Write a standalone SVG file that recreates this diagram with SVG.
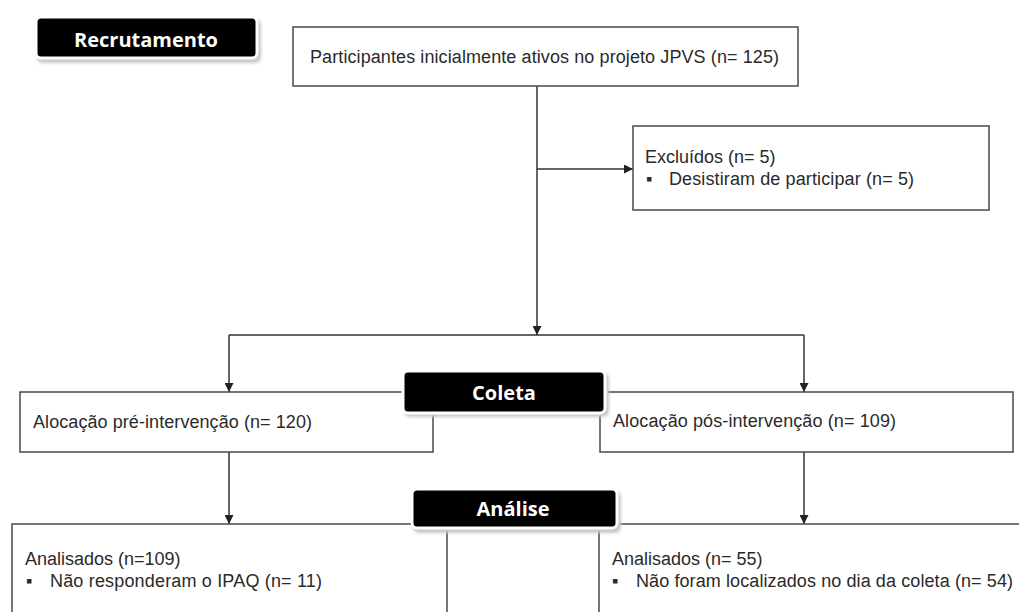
<svg xmlns="http://www.w3.org/2000/svg" width="1019" height="612" viewBox="0 0 1019 612">
<style>
.box{fill:#fff;stroke:#4a4a4a;stroke-width:1.5}
.txt{font-family:"Liberation Sans",Arial,sans-serif;font-size:18px;fill:#2a2a2a}
.lbl{fill:#000;stroke:#fff;stroke-width:3}
.shd{fill:#c8c8c8}
.ltxt{font-family:"Open Sans","DejaVu Sans",sans-serif;font-weight:bold;font-size:20px;fill:#fff;text-anchor:middle}
.con{fill:none;stroke:#333;stroke-width:1.5}
</style>
<defs>
<marker id="arr" viewBox="0 0 10 10" refX="10" refY="5" markerWidth="9" markerHeight="9" markerUnits="userSpaceOnUse" orient="auto">
<path d="M0,0 L10,5 L0,10 Z" fill="#222"/>
</marker>
<filter id="blur" x="-10%" y="-30%" width="120%" height="160%"><feGaussianBlur stdDeviation="1.5"/></filter>
</defs>
<rect width="1019" height="612" fill="#fff"/>
<g id="connectors">
<path class="con" d="M537,86 V335" marker-end="url(#arr)"/>
<path class="con" d="M537,169 H633" marker-end="url(#arr)"/>
<path class="con" d="M229,335 H804"/>
<path class="con" d="M229,335 V392" marker-end="url(#arr)"/>
<path class="con" d="M804,335 V392" marker-end="url(#arr)"/>
<path class="con" d="M229,452 V524" marker-end="url(#arr)"/>
<path class="con" d="M804,452 V524" marker-end="url(#arr)"/>
</g>
<g id="participantes">
<rect class="box" x="293" y="27" width="505" height="59"/>
<text class="txt" x="310" y="63" textLength="469" lengthAdjust="spacing">Participantes inicialmente ativos no projeto JPVS (n= 125)</text>
</g>
<g id="excluidos">
<rect class="box" x="633" y="126" width="356" height="84"/>
<text class="txt" x="645" y="163">Excluídos  (n= 5)</text>
<text class="txt" x="646" y="185">▪</text>
<text class="txt" x="669" y="185" textLength="245" lengthAdjust="spacing">Desistiram de participar (n= 5)</text>
</g>
<g id="pre">
<rect class="box" x="20" y="392" width="413" height="60"/>
<text class="txt" x="33" y="428" textLength="279" lengthAdjust="spacing">Alocação pré-intervenção  (n= 120)</text>
</g>
<g id="pos">
<rect class="box" x="600" y="392" width="413" height="60"/>
<text class="txt" x="613" y="427" textLength="283" lengthAdjust="spacing">Alocação pós-intervenção  (n= 109)</text>
</g>
<g id="analisados-pre">
<rect class="box" x="12" y="524" width="435" height="120"/>
<text class="txt" x="25" y="565">Analisados (n=109)</text>
<text class="txt" x="26" y="587">▪</text>
<text class="txt" x="50" y="587" textLength="272" lengthAdjust="spacing">Não responderam  o IPAQ (n= 11)</text>
</g>
<g id="analisados-pos">
<rect class="box" x="599" y="524" width="440" height="120"/>
<text class="txt" x="612" y="565">Analisados (n= 55)</text>
<text class="txt" x="612" y="587">▪</text>
<text class="txt" x="636" y="587" textLength="377" lengthAdjust="spacing">Não foram  localizados no dia da coleta (n= 54)</text>
</g>
<g id="recrutamento">
<rect class="shd" x="37" y="19" width="224" height="44" rx="6" filter="url(#blur)"/>
<rect class="lbl" x="36" y="17" width="221" height="41" rx="5"/>
<text class="ltxt" x="146" y="47">Recrutamento</text>
</g>
<g id="coleta">
<rect class="shd" x="404" y="373" width="205" height="44" rx="6" filter="url(#blur)"/>
<rect class="lbl" x="403" y="371" width="202" height="42" rx="5"/>
<text class="ltxt" x="504" y="400">Coleta</text>
</g>
<g id="analise">
<rect class="shd" x="413" y="491" width="208" height="42" rx="6" filter="url(#blur)"/>
<rect class="lbl" x="412" y="489" width="205" height="39" rx="5"/>
<text class="ltxt" x="513" y="516">Análise</text>
</g>
</svg>
